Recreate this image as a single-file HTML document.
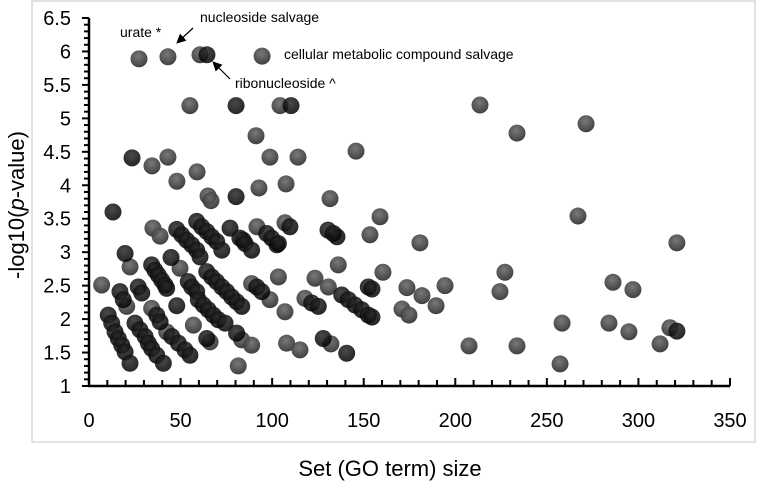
<!DOCTYPE html>
<html><head><meta charset="utf-8"><style>
body{margin:0;background:#fff;}
svg{display:block;font-family:"Liberation Sans",sans-serif;}
</style></head><body>
<svg id="chart" width="764" height="486">
<defs>
<radialGradient id="gGray" cx="45%" cy="35%" r="65%"><stop offset="0" stop-color="#6a6a6a"/><stop offset="0.7" stop-color="#3f3f3f"/><stop offset="1" stop-color="#2a2a2a"/></radialGradient>
<radialGradient id="gBlack" cx="45%" cy="35%" r="65%"><stop offset="0" stop-color="#2a2a2a"/><stop offset="0.7" stop-color="#0c0c0c"/><stop offset="1" stop-color="#000"/></radialGradient>
<marker id="ah" markerWidth="8" markerHeight="8" refX="6" refY="4" orient="auto"><path d="M0,0 L8,4 L0,8 z" fill="#000"/></marker>
</defs>
<rect x="32" y="1" width="723" height="441" fill="none" stroke="#d9d9d9" stroke-width="1.5"/>
<g id="marks"></g>
<g id="axes"></g>
<text x="120" y="37" font-size="14">urate *</text>
<text x="200" y="22" font-size="14">nucleoside salvage</text>
<line x1="193" y1="28" x2="178" y2="42" stroke="#000" stroke-width="1.2" marker-end="url(#ah)"/>
<text x="284" y="59" font-size="14">cellular metabolic compound salvage</text>
<text x="235" y="88" font-size="14">ribonucleoside ^</text>
<line x1="230" y1="79" x2="214" y2="63" stroke="#000" stroke-width="1.2" marker-end="url(#ah)"/>
<text x="390" y="476" font-size="22" text-anchor="middle">Set (GO term) size</text>
<text transform="translate(24,205) rotate(-90)" font-size="22" text-anchor="middle">-log10(<tspan font-style="italic">p</tspan>-value)</text>
</svg>
<script>
const xTicks=[0,50,100,150,200,250,300,350];
const yTicks=[1,1.5,2,2.5,3,3.5,4,4.5,5,5.5,6,6.5];
const grayX=[27.3,43.1,60.6,94.5,55.1,104.3,91.2,34.4,43.1,98.8,114.1,145.8,59.0,48.0,107.6,92.8,65.0,66.6,131.6,34.9,38.8,91.7,107.0,153.4,158.9,22.4,49.7,103.4,123.4,130.7,136.1,6.9,20.6,34.2,42.4,57.0,81.5,107.9,115.2,213.5,233.7,271.4,267.0,321.0,180.7,160.5,173.6,181.8,194.4,189.5,170.9,174.7,227.1,224.4,286.1,297.0,258.3,283.9,294.8,317.2,311.8,207.5,233.7,257.2,88.8,98.8,107.0,117.9,132.1,66.1,83.4,88.8];
const grayY=[5.89,5.92,5.95,5.93,5.19,5.19,4.74,4.29,4.42,4.42,4.42,4.51,4.20,4.06,4.02,3.96,3.84,3.77,3.80,3.36,3.24,3.38,3.44,3.26,3.53,2.78,2.76,2.63,2.61,2.48,2.81,2.51,2.19,2.16,1.81,1.91,1.30,1.64,1.54,5.20,4.78,4.92,3.54,3.14,3.14,2.70,2.47,2.35,2.50,2.20,2.15,2.06,2.70,2.41,2.55,2.44,1.94,1.94,1.81,1.87,1.63,1.60,1.60,1.33,2.53,2.29,2.11,2.31,1.63,1.66,1.69,1.61];
const blackX=[64.4,80.3,110.3,23.5,80.3,13.1,77.0,84.1,102.6,109.7,130.5,135.4,133.4,
47.9,50.6,53.3,56.1,58.8,60.6,64.3,67.0,69.7,72.5,75.2,77.9,80.6,83.4,
58.8,61.5,64.3,67.0,69.7,72.5,82.4,85.2,88.8,97.0,99.7,103.4,19.7,
34.2,36.0,37.8,39.7,41.5,42.4,44.8,54.2,56.1,58.8,91.6,94.3,121.6,125.2,
138.0,141.6,145.2,148.9,152.5,152.5,16.9,18.7,26.9,28.8,
10.5,12.4,14.2,16.0,17.9,19.7,22.4,25.1,27.8,30.6,32.4,34.2,37.0,40.6,
37.0,38.8,45.2,48.8,52.4,55.1,47.9,59.7,62.4,65.1,67.9,70.6,74.3,64.3,80.6,127.9,140.7,154.5,154.5,321.0];
const blackY=[5.95,5.19,5.19,4.41,3.83,3.60,3.36,3.18,3.11,3.38,3.33,3.23,3.28,
3.34,3.26,3.18,3.11,3.03,2.93,2.71,2.63,2.56,2.48,2.41,2.33,2.26,2.19,
3.46,3.38,3.31,3.23,3.16,3.03,3.21,3.13,3.03,3.28,3.21,3.13,2.98,
2.81,2.73,2.66,2.58,2.51,2.46,2.92,2.56,2.48,2.41,2.48,2.41,2.24,2.19,
2.36,2.29,2.21,2.14,2.06,2.48,2.41,2.29,2.48,2.39,
2.06,1.94,1.81,1.71,1.61,1.51,1.34,1.94,1.84,1.74,1.64,1.56,1.46,1.34,
2.06,1.96,1.74,1.64,1.54,1.46,2.20,2.29,2.21,2.14,2.06,1.99,1.94,1.71,1.79,1.71,1.49,2.45,2.03,1.82];

const NS='http://www.w3.org/2000/svg';
const X0=89,X1=730,Y0=386,Y1=18;
function xs(v){return X0+(v-0)/350*(X1-X0);}
function ys(v){return Y0-(v-1)/5.5*(Y0-Y1);}
function mk(tag,attrs,parent){const e=document.createElementNS(NS,tag);for(const k in attrs)e.setAttribute(k,attrs[k]);parent.appendChild(e);return e;}
const axes=document.getElementById('axes'),marks=document.getElementById('marks');
const ya=mk('line',{x1:X0,y1:Y1,x2:X0,y2:Y0,stroke:'#000','stroke-width':2.5},axes);


const xa=mk('line',{x1:X0-1,y1:Y0,x2:X1,y2:Y0,stroke:'#000','stroke-width':2.5},axes);


for(let v=1;v<=6.501;v+=0.1){const y=ys(v);const mj=Math.abs(v*2-Math.round(v*2))<0.01;
 const t=mk('line',{x1:X0-(mj?7:5),y1:y,x2:X0,y2:y,stroke:'#000','stroke-width':2},axes);
 
 }
for(let v=10;v<=350;v+=10){const x=xs(v);const mj=v%50==0;
 const t=mk('line',{x1:x,y1:Y0,x2:x,y2:Y0-(mj?8:6),stroke:'#000','stroke-width':2},axes);
 
 }
yTicks.forEach(v=>{const t=mk('text',{x:71,y:ys(v)+7,'font-size':20,'text-anchor':'end'},axes);t.textContent=String(v);
 
 });
xTicks.forEach(v=>{const t=mk('text',{x:xs(v),y:427,'font-size':20,'text-anchor':'middle'},axes);t.textContent=String(v);
 
 });
grayX.forEach((v,i)=>{const c=mk('circle',{cx:xs(v),cy:ys(grayY[i]),r:8.5,fill:'url(#gGray)','fill-opacity':0.9},marks);
 
 });
blackX.forEach((v,i)=>{const c=mk('circle',{cx:xs(v),cy:ys(blackY[i]),r:8.5,fill:'url(#gBlack)','fill-opacity':0.85},marks);
 
 });
</script>
</body></html>
